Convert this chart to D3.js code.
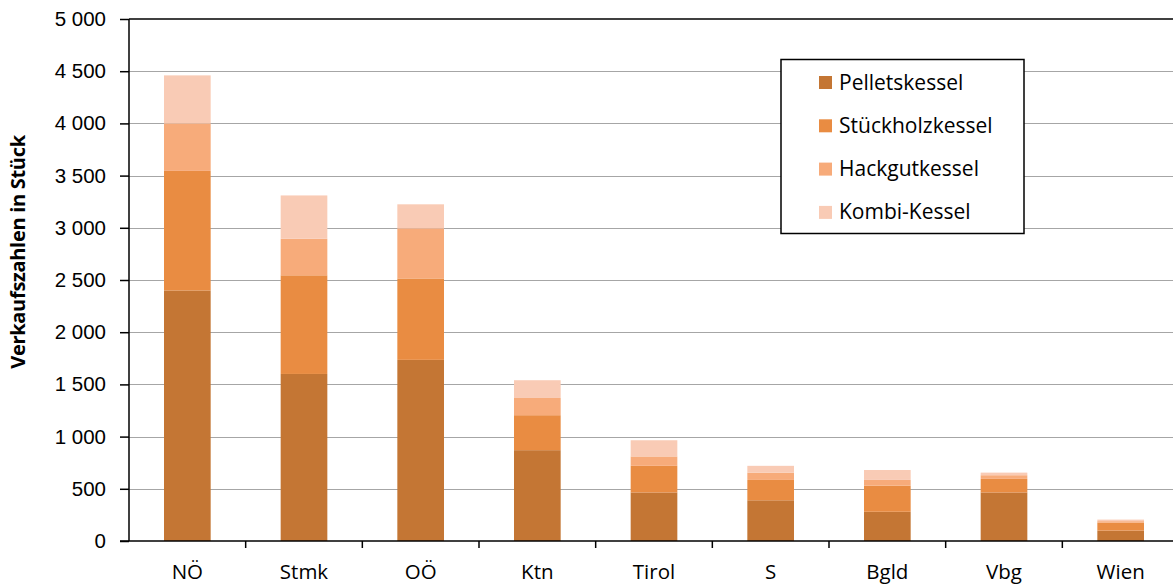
<!DOCTYPE html>
<html>
<head>
<meta charset="utf-8">
<script src="https://cdn.jsdelivr.net/npm/d3@7"></script>
<style>
  body { margin: 0; background: #fff; }
  svg { font-family: "Open Sans", sans-serif; }
  .grid line { stroke: #a6a6a6; stroke-width: 1; }
  .axis path, .axis line { stroke: #000; stroke-width: 1.5; }
  .axis text { font-size: 20.5px; fill: #000; }
</style>
</head>
<body>
<svg id="svg"></svg>
<script>
const laender = ['NÖ','Stmk','OÖ','Ktn','Tirol','S','Bgld','Vbg','Wien'];
const serien = ['Pelletskessel','Stückholzkessel','Hackgutkessel','Kombi-Kessel'];
const pellets    = [2400, 1600, 1735, 870, 465, 390, 280, 465, 100];
const stueckholz = [1145,  945,  780, 335, 255, 195, 250, 130,  75];
const hackgut    = [ 455,  350,  480, 165,  90,  70,  55,  35,  15];
const kombi      = [ 460,  415,  230, 170, 155,  65,  95,  25,  15];
const yTicks = [0, 500, 1000, 1500, 2000, 2500, 3000, 3500, 4000, 4500, 5000];
const farben = ['#c47634','#e98c42','#f7ab7a','#f9cbb5'];

const W = 1173, H = 585;
const svg = d3.select("#svg").attr("width", W).attr("height", H);

const rows = laender.map((l, i) => ({
  land: l,
  Pelletskessel: pellets[i],
  Stückholzkessel: stueckholz[i],
  Hackgutkessel: hackgut[i],
  'Kombi-Kessel': kombi[i]
}));
const stack = d3.stack().keys(serien)(rows);

const x = d3.scaleBand().domain(laender).range([129, 1179]).paddingInner(0.6).paddingOuter(0.3);
const y = d3.scaleLinear().domain([0, 5000]).range([541, 19]);

const fmt = d3.formatLocale({decimal: ",", thousands: " ", grouping: [3], currency: ["", "€"]}).format(",d");

svg.append("g").classed("grid", true)
  .selectAll("line")
  .data(yTicks.slice(1, -1))
  .enter().append("line")
  .attr("x1", 129).attr("x2", W)
  .attr("y1", d => Math.round(y(d)) + 0.5)
  .attr("y2", d => Math.round(y(d)) + 0.5);

// obere Linie
svg.append("line")
  .attr("x1", 129).attr("x2", W)
  .attr("y1", y(5000)).attr("y2", y(5000))
  .attr("stroke", "#000").attr("stroke-width", 1.5);

svg.append("g")
  .selectAll("g")
  .data(stack)
  .enter().append("g")
  .attr("fill", (_, i) => farben[i])
  .selectAll("rect")
  .data(d => d)
  .enter().append("rect")
  .attr("x", d => x(d.data.land))
  .attr("width", x.bandwidth())
  .attr("y", d => y(d[1]))
  .attr("height", d => y(d[0]) - y(d[1]));

const yAxis = svg.append("g").classed("axis", true)
  .attr("transform", "translate(129,0)")
  .call(d3.axisLeft(y).tickValues(yTicks).tickFormat(fmt).tickSize(9).tickSizeOuter(0).tickPadding(14));
yAxis.select(".domain").attr("d", `M0,${y(5000)}V${y(0)}`);

// x-Achse mit Strichen zwischen den Kategorien
const xAxis = svg.append("g").classed("axis", true);
xAxis.append("line")
  .attr("x1", 120).attr("x2", W)
  .attr("y1", y(0)).attr("y2", y(0));
xAxis.selectAll("line.tick")
  .data(laender.slice(1))
  .enter().append("line")
  .attr("x1", d => x(d) - x.step() * 0.3)
  .attr("x2", d => x(d) - x.step() * 0.3)
  .attr("y1", y(0)).attr("y2", y(0) + 7);
xAxis.selectAll("text")
  .data(laender)
  .enter().append("text")
  .attr("x", d => x(d) + x.bandwidth() / 2)
  .attr("y", 579)
  .attr("text-anchor", "middle")
  .text(d => d);

svg.append("text")
  .attr("transform", "translate(25,252) rotate(-90)")
  .attr("text-anchor", "middle")
  .style("font-size", "20px")
  .style("font-weight", "bold")
  .style("letter-spacing", "-0.3px")
  .text("Verkaufszahlen in Stück");

const legend = svg.append("g");
legend.append("rect")
  .attr("x", 781).attr("y", 59.5)
  .attr("width", 243).attr("height", 174)
  .attr("fill", "#fff").attr("stroke", "#000").attr("stroke-width", 1.5);
const item = legend.selectAll("g")
  .data(serien)
  .enter().append("g")
  .attr("transform", (_, i) => `translate(819,${82.5 + i * 43.3})`);
item.append("rect")
  .attr("y", -6.5).attr("width", 13).attr("height", 13)
  .attr("fill", (_, i) => farben[i]);
item.append("text")
  .attr("x", 20).attr("y", 7)
  .style("font-size", "21px")
  .text(d => d);
</script>
</body>
</html>
